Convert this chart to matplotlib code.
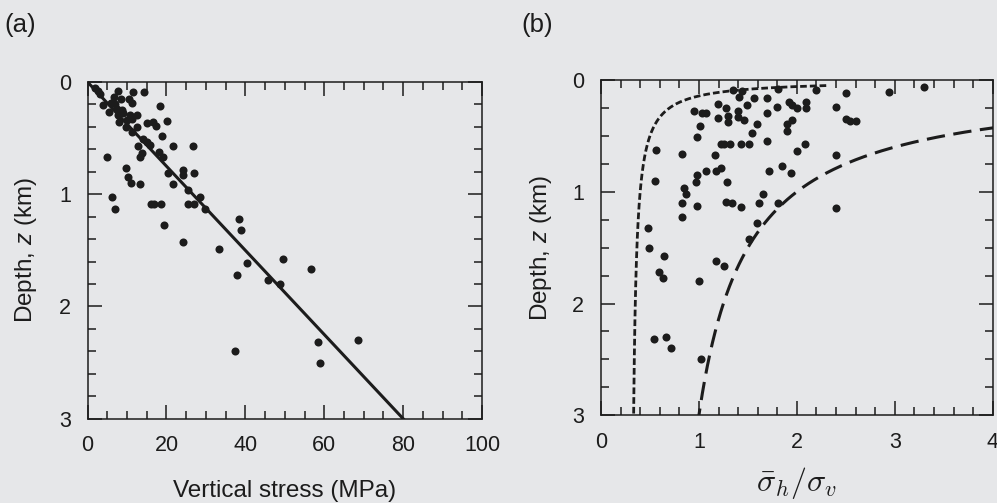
import numpy as np
import matplotlib
matplotlib.use("Agg")
import matplotlib.pyplot as plt
from matplotlib.ticker import MultipleLocator

# ---------------- data ----------------
# Panel (a): vertical stress (MPa) vs depth (km)
stress_a = [1.9, 2.7, 3.2, 7.6, 11.4, 14.2, 6.8, 8.4, 10.6, 4.0, 5.9, 7.0, 11.2, 18.4,
            5.5, 7.4, 8.7, 9.1, 7.8, 10.8, 12.5, 8.1, 9.9, 11.2, 15.0, 16.7, 17.4, 20.1,
            9.8, 12.6, 11.2, 18.8, 14.0, 15.0, 12.9, 15.9, 21.6, 26.7, 13.8, 13.2, 18.2,
            19.1, 4.9, 9.8, 10.2, 11.0, 13.3, 20.3, 24.2, 24.2, 27.0, 21.6, 6.3, 7.0,
            16.1, 16.9, 18.7, 25.4, 28.6, 25.4, 27.0, 29.7, 19.4, 38.5, 39.0, 24.3, 33.2,
            40.4, 37.9, 49.5, 45.7, 48.7, 56.7, 37.4, 58.5, 59.0, 68.5]
depth_a = [0.056, 0.077, 0.107, 0.080, 0.092, 0.086, 0.137, 0.154, 0.152, 0.205, 0.190,
           0.200, 0.190, 0.210, 0.267, 0.243, 0.250, 0.279, 0.294, 0.294, 0.294, 0.354,
           0.339, 0.333, 0.368, 0.354, 0.392, 0.345, 0.404, 0.398, 0.449, 0.478, 0.508,
           0.532, 0.570, 0.561, 0.570, 0.570, 0.636, 0.671, 0.621, 0.666, 0.666, 0.764,
           0.850, 0.897, 0.912, 0.814, 0.784, 0.829, 0.814, 0.912, 1.022, 1.135, 1.090,
           1.090, 1.090, 0.963, 1.022, 1.090, 1.090, 1.135, 1.275, 1.221, 1.319, 1.423,
           1.488, 1.616, 1.720, 1.578, 1.768, 1.797, 1.669, 2.400, 2.320, 2.500, 2.300]
# overburden line (0.027 MPa/m)
line_stress = [0, 80]
line_depth = [0, 3]

# Panel (b): ratio of mean horizontal to vertical stress vs depth (km)
ratio_b = [1.345, 1.437, 1.413, 1.563, 1.699, 1.805, 1.198, 1.277, 1.494, 1.798, 1.920,
           1.948, 2.005, 2.094, 2.094, 0.950, 1.029, 1.073, 1.198, 1.294, 1.294, 1.402,
           1.402, 1.461, 1.699, 1.597, 1.954, 1.903, 1.897, 1.011, 0.984, 1.539, 1.699,
           1.226, 1.256, 1.318, 1.427, 1.515, 2.084, 1.999, 0.562, 0.824, 1.168, 1.846,
           1.937, 1.716, 1.069, 1.171, 1.226, 0.984, 0.970, 1.290, 0.552, 0.848, 0.868,
           1.652, 0.824, 0.977, 1.274, 1.341, 1.427, 1.617, 1.805, 0.824, 1.597, 0.483,
           1.515, 0.490, 0.643, 1.171, 1.256,
           2.397, 0.596, 0.630, 1.001, 0.538, 0.667, 0.718, 1.018,
           2.196, 2.499, 2.942, 3.296, 2.397, 2.499, 2.543, 2.600, 2.397]
depth_b = [0.089, 0.096, 0.149, 0.158, 0.158, 0.080, 0.215, 0.253, 0.221, 0.244, 0.200,
           0.224, 0.248, 0.200, 0.248, 0.274, 0.298, 0.298, 0.337, 0.319, 0.373, 0.274,
           0.328, 0.358, 0.298, 0.397, 0.358, 0.397, 0.456, 0.409, 0.507, 0.477, 0.543,
           0.572, 0.572, 0.572, 0.572, 0.572, 0.572, 0.635, 0.626, 0.665, 0.671, 0.766,
           0.829, 0.814, 0.814, 0.814, 0.790, 0.850, 0.915, 0.915, 0.900, 0.969, 1.022,
           1.022, 1.097, 1.127, 1.088, 1.097, 1.139, 1.097, 1.097, 1.222, 1.276, 1.321,
           1.425, 1.500, 1.574, 1.619, 1.664,
           1.142, 1.714, 1.774, 1.798, 2.320, 2.300, 2.400, 2.500,
           0.087, 0.114, 0.107, 0.060, 0.244, 0.346, 0.370, 0.367, 0.674]

# Hoek-Brown bounds: k = A / z(m) + B
inner_A, inner_B = 100.0, 0.3
outer_A, outer_B = 1500.0, 0.5
z_inner_m = np.linspace(50, 3000, 600)
z_outer_m = np.linspace(300, 3000, 600)

# ---------------- style ----------------
bg = "#e6e7e9"
ink = "#1c1c1c"
plt.rcParams["font.family"] = ["Liberation Sans", "DejaVu Sans"]
plt.rcParams["mathtext.fontset"] = "custom"
plt.rcParams["mathtext.rm"] = "Liberation Sans"
plt.rcParams["mathtext.it"] = "Liberation Sans:italic"

fig = plt.figure(figsize=(9.97, 5.03), dpi=100, facecolor=bg)
axA = fig.add_axes([0.0878, 0.1676, 0.3957, 0.6694], facecolor=bg)
axB = fig.add_axes([0.6028, 0.1744, 0.3929, 0.6666], facecolor=bg)

def style(ax):
    for s in ax.spines.values():
        s.set_linewidth(1.1)
        s.set_color(ink)
    ax.tick_params(which="both", direction="in", top=True, right=True,
                   color=ink, width=1.1, labelsize=15.5, pad=12, labelcolor=ink)
    ax.tick_params(which="major", length=10)
    ax.tick_params(which="minor", length=5.5)

# Panel (a)
axA.plot(line_stress, line_depth, color=ink, lw=2.2, zorder=2)
axA.plot(stress_a, depth_a, "o", color=ink, ms=5.8, mec="none", zorder=3)
axA.set_xlim(0, 100)
axA.set_ylim(3, 0)
axA.xaxis.set_major_locator(MultipleLocator(20))
axA.xaxis.set_minor_locator(MultipleLocator(5))
axA.yaxis.set_major_locator(MultipleLocator(1))
axA.yaxis.set_minor_locator(MultipleLocator(0.2))
style(axA)
axA.set_xlabel("Vertical stress (MPa)", fontsize=17.5, color=ink, labelpad=17)
axA.set_ylabel("Depth, $z$ (km)", fontsize=17.5, color=ink, labelpad=14)

# Panel (b)
k_inner = inner_A / z_inner_m + inner_B
k_outer = outer_A / z_outer_m + outer_B
axB.plot(k_inner, z_inner_m / 1000.0, color=ink, lw=2.0, ls=(0, (2.4, 1.1)), zorder=2)
axB.plot(k_outer, z_outer_m / 1000.0, color=ink, lw=2.2, ls=(0, (6.0, 2.8)), zorder=2)
axB.plot(ratio_b, depth_b, "o", color=ink, ms=5.8, mec="none", zorder=3)
axB.set_xlim(0, 4)
axB.set_ylim(3, 0)
axB.xaxis.set_major_locator(MultipleLocator(1))
axB.xaxis.set_minor_locator(MultipleLocator(0.2))
axB.yaxis.set_major_locator(MultipleLocator(1))
axB.yaxis.set_minor_locator(MultipleLocator(0.25))
style(axB)
axB.set_xlabel(r"$\bar{\sigma}_h/\sigma_v$", fontsize=23, color=ink, labelpad=9,
               math_fontfamily="cm")
axB.set_ylabel("Depth, $z$ (km)", fontsize=17.5, color=ink, labelpad=13)

fig.text(0.004, 0.95, "(a)", fontsize=18.5, color=ink, va="center", ha="left")
fig.text(0.523, 0.95, "(b)", fontsize=18.5, color=ink, va="center", ha="left")

fig.savefig("out.png", dpi=100, facecolor=bg)
